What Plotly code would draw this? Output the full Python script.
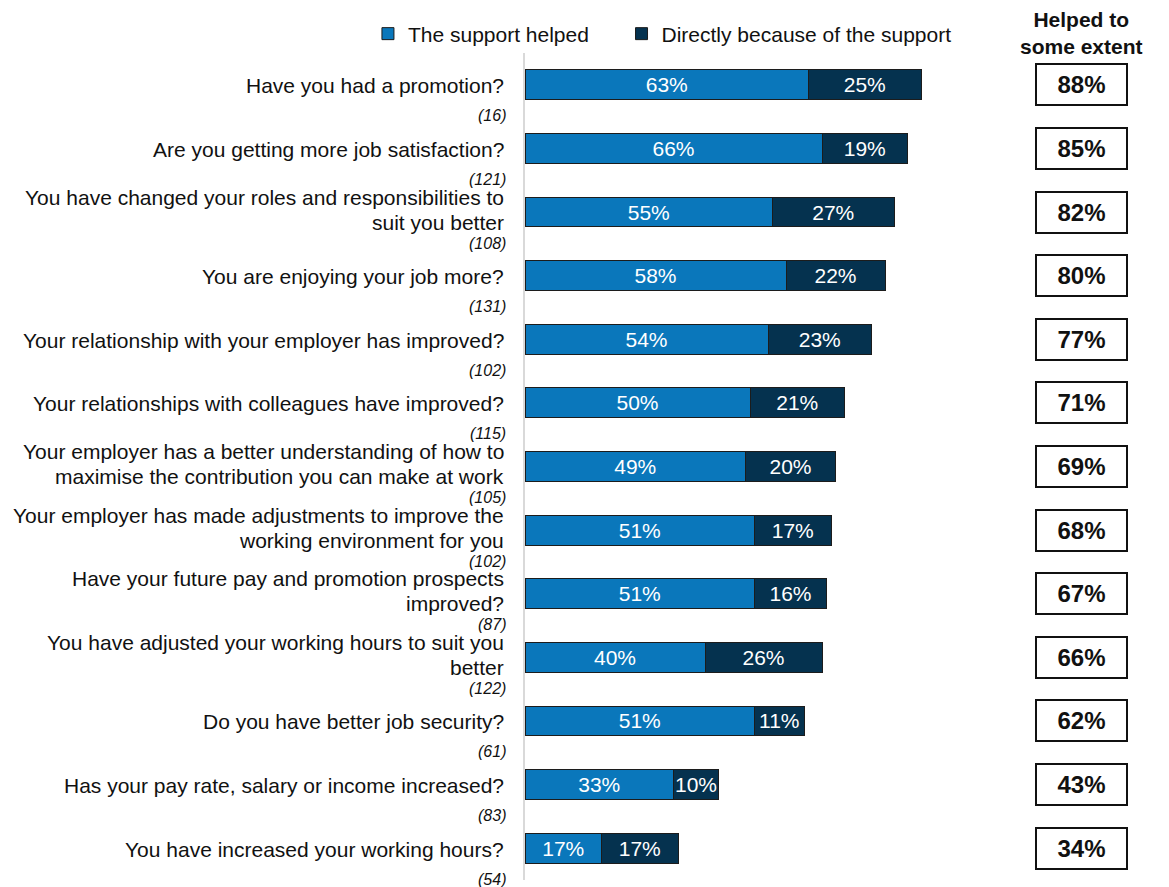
import plotly.graph_objects as go

# Survey items (top to bottom), base sizes and the two stacked shares (%)
questions = [
    "Have you had a promotion?",
    "Are you getting more job satisfaction?",
    "You have changed your roles and responsibilities to<br>suit you better",
    "You are enjoying your job more?",
    "Your relationship with your employer has improved?",
    "Your relationships with colleagues have improved?",
    "Your employer has a better understanding of how to<br>maximise the contribution you can make at work",
    "Your employer has made adjustments to improve the<br>working environment for you",
    "Have your future pay and promotion prospects<br>improved?",
    "You have adjusted your working hours to suit you<br>better",
    "Do you have better job security?",
    "Has your pay rate, salary or income increased?",
    "You have increased your working hours?",
]
base_sizes = [16, 121, 108, 131, 102, 115, 105, 102, 87, 122, 61, 83, 54]
support_helped = [63, 66, 55, 58, 54, 50, 49, 51, 51, 40, 51, 33, 17]
directly_because = [25, 19, 27, 22, 23, 21, 20, 17, 16, 26, 11, 10, 17]

series_names = ["The support helped", "Directly because of the support"]
series_colors = ["#0A77BB", "#05324F"]
header_text = "Helped to<br>some extent"

FONT = "Liberation Sans, Arial, sans-serif"
INK = "#111111"

fig = go.Figure()
for name, values, color, leg in zip(series_names, [support_helped, directly_because],
                                    series_colors, ["legend", "legend2"]):
    fig.add_trace(go.Bar(
        name=name,
        y=questions,
        x=values,
        orientation="h",
        width=0.47,
        legend=leg,
        marker=dict(color=color, line=dict(color="#1c1c1c", width=1)),
        text=[f"{v}%" for v in values],
        textposition="inside",
        insidetextanchor="middle",
        constraintext="none",
        textfont=dict(family=FONT, size=21, color="white"),
        hoverinfo="skip",
    ))

annotations = []
LINE_STEP = 25  # px between wrapped lines of an item label
for q, n in zip(questions, base_sizes):
    lines = q.split("<br>")
    # item label, right-aligned next to the axis, one annotation per line
    if len(lines) == 1:
        shifts = [-1]
    else:
        shifts = [15, 15 - LINE_STEP]
    for line, dy in zip(lines, shifts):
        annotations.append(dict(
            xref="paper", yref="y", x=0, y=q, xanchor="right", yanchor="middle",
            xshift=-19, yshift=dy, showarrow=False, text=line,
            font=dict(family=FONT, size=21, color=INK),
        ))
    # base size under the label
    annotations.append(dict(
        xref="paper", yref="y", x=0, y=q, xanchor="right", yanchor="middle",
        xshift=-17, yshift=-31, showarrow=False,
        text=f"<i>({n})</i>",
        font=dict(family=FONT, size=16, color=INK),
    ))

# total "helped to some extent" boxes on the right
for q, a, b in zip(questions, support_helped, directly_because):
    annotations.append(dict(
        xref="paper", yref="y", x=1.2367, y=q, xanchor="center", yanchor="middle",
        showarrow=False, text=f"<b>{a + b}%</b>",
        width=87, height=37, borderpad=1, borderwidth=2, bordercolor=INK,
        font=dict(family=FONT, size=24, color=INK),
    ))

annotations.append(dict(
    xref="paper", yref="paper", x=1.2367, y=1.0242, xanchor="center", yanchor="middle",
    showarrow=False, text=f"<b>{header_text}</b>",
    font=dict(family=FONT, size=21, color=INK),
))

legend_style = dict(
    orientation="h", y=1.023, xanchor="left", yanchor="middle",
    font=dict(family=FONT, size=21, color=INK),
    bgcolor="rgba(0,0,0,0)",
)

fig.update_layout(
    width=1169, height=887,
    margin=dict(l=525, r=194, t=53, b=7),
    barmode="stack",
    plot_bgcolor="white", paper_bgcolor="white",
    font=dict(family=FONT, color=INK),
    showlegend=True,
    legend=dict(x=-0.349, **legend_style),
    legend2=dict(x=0.2145, **legend_style),
    annotations=annotations,
    xaxis=dict(range=[0, 100], showgrid=False, zeroline=False, showticklabels=False,
               showline=False, fixedrange=True),
    yaxis=dict(
        categoryorder="array", categoryarray=questions, range=[12.5, -0.5],
        showgrid=False, zeroline=False, showline=True, linecolor="#d9d9d9", linewidth=2,
        ticks="", showticklabels=False,
    ),
)

fig.write_html("out.html")
